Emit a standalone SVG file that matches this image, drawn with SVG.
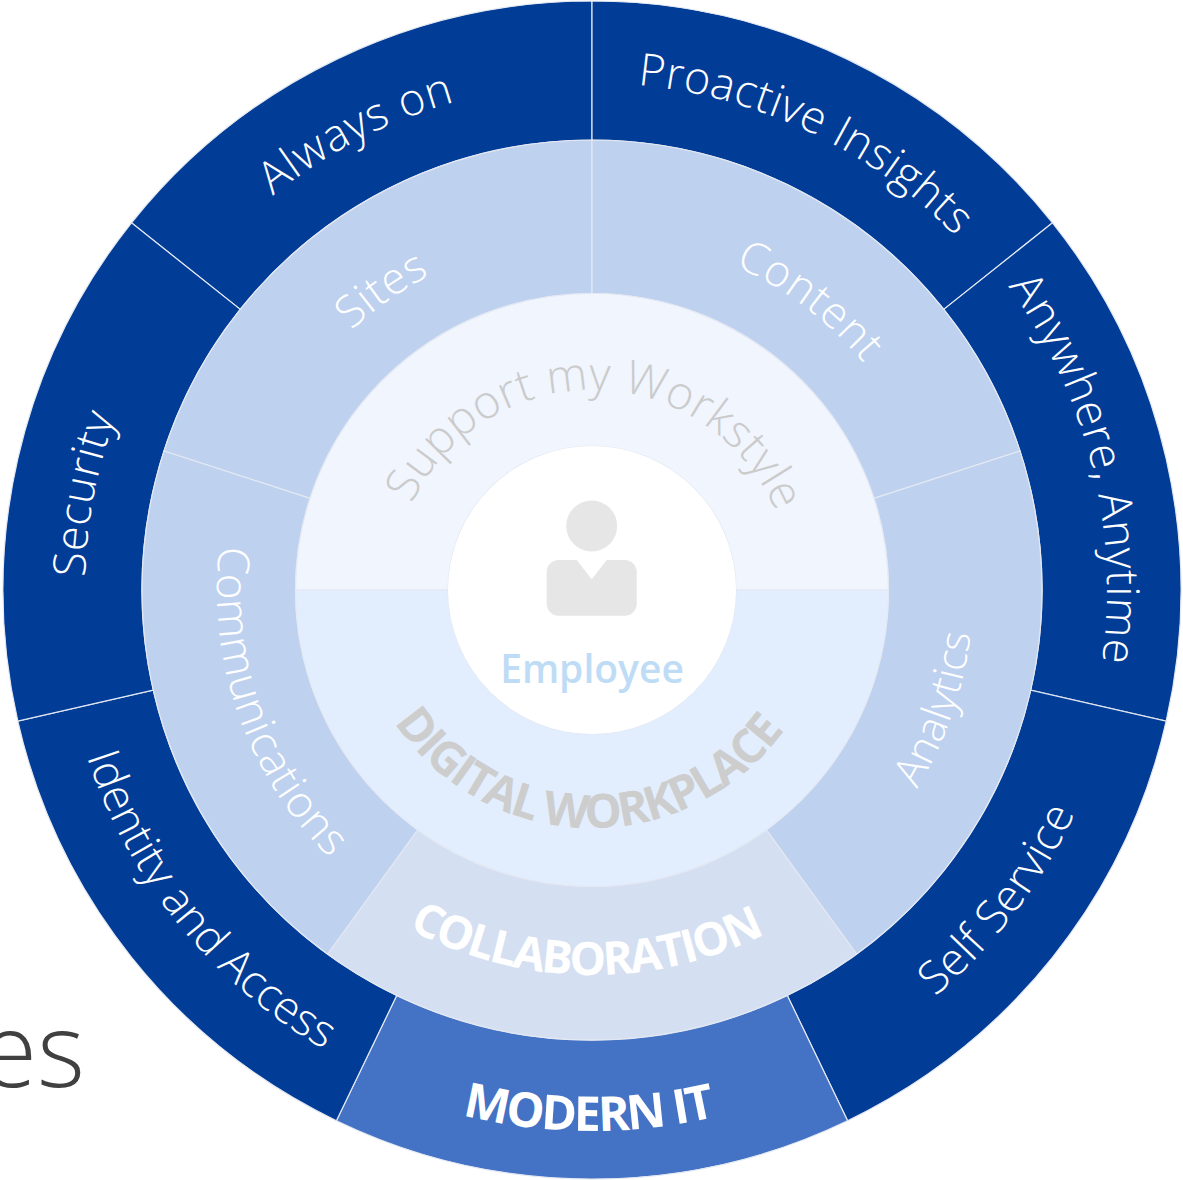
<svg xmlns="http://www.w3.org/2000/svg" xmlns:xlink="http://www.w3.org/1999/xlink" width="1183" height="1180" viewBox="0 0 1183 1180">
<style>
.seg{stroke:#e3e8f2;stroke-width:1.2}
.navy{fill:#013c97}
.mod{fill:#4472c4}
.r2{fill:#bed1ef}
.col{fill:#d4dff1}
.up{fill:#f0f5fe}
.lo{fill:#e2eefe}
text{font-family:"Open Sans","Noto Sans","Liberation Sans",sans-serif}
.lb{fill:#fff;font-weight:300;font-size:45px;letter-spacing:.4px;text-anchor:middle}
.lb2{fill:#fff;font-weight:300;font-size:44px;letter-spacing:.7px;text-anchor:middle}
.cap{fill:#fff;font-weight:700;text-anchor:middle;letter-spacing:-2px}
.sup{fill:#cbcbcb;font-weight:300;font-size:46px;letter-spacing:.2px;text-anchor:middle}
</style>
<defs>
<path id="o507" d="M85 590A507 507 0 0 1 1099 590"/>
<path id="o515" d="M77 590A515 515 0 0 1 1107 590"/>
<path id="o532" d="M60 590A532 532 0 0 0 1124 590"/>
<path id="o541" d="M51 590A541 541 0 0 0 1133 590"/>
<path id="m354" d="M238 590A354 354 0 0 1 946 590"/>
<path id="m375" d="M217 590A375 375 0 0 0 967 590"/>
<path id="m381" d="M211 590A381 381 0 0 0 973 590"/>
<path id="m385" d="M207 590A385 385 0 0 0 977 590"/>
<path id="i200" d="M392 590A200 200 0 0 1 792 590"/>
<path id="i238" d="M354 590A238 238 0 0 0 830 590"/>
</defs>
<g id="fragment"><text x="85" y="1087" font-size="103" font-weight="300" fill="#404040" text-anchor="end">es</text></g>
<g id="connectors"></g>
<g id="outer-ring">
<g id="always-on"><path class="seg navy" d="M131.5 222.8A589 589 0 0 1 592 1V140A450 450 0 0 0 240.2 309.4Z"/><text class="lb" style="letter-spacing:.8px" transform="rotate(-27.3 592 590)"><textPath href="#o507" startOffset="50%">Always on</textPath></text></g>
<g id="proactive-insights"><path class="seg navy" d="M592 1A589 589 0 0 1 1052.5 222.8L943.8 309.4A450 450 0 0 0 592 140Z"/><text class="lb" transform="rotate(25.5 592 590)"><textPath href="#o507" startOffset="50%">Proactive Insights</textPath></text></g>
<g id="anywhere-anytime"><path class="seg navy" d="M1052.5 222.8A589 589 0 0 1 1166.2 721.1L1030.7 690.1A450 450 0 0 0 943.8 309.4Z"/><text class="lb" style="letter-spacing:.7px" transform="rotate(76 592 590)"><textPath href="#o515" startOffset="50%">Anywhere, Anytime</textPath></text></g>
<g id="self-service"><path class="seg navy" d="M1166.2 721.1A589 589 0 0 1 847.6 1120.7L787.3 995.5A450 450 0 0 0 1030.7 690.1Z"/><text class="lb" transform="rotate(-52.7 592 590)"><textPath href="#o532" startOffset="50%">Self Service</textPath></text></g>
<g id="modern-it"><path class="seg mod" d="M847.6 1120.7A589 589 0 0 1 336.4 1120.7L396.7 995.5A450 450 0 0 0 787.3 995.5Z"/><text class="cap" font-size="48" transform="rotate(.4 592 590)"><textPath href="#o541" startOffset="50%">MODERN IT</textPath></text></g>
<g id="identity-access"><path class="seg navy" d="M336.4 1120.7A589 589 0 0 1 17.8 721.1L153.3 690.1A450 450 0 0 0 396.7 995.5Z"/><text class="lb" style="letter-spacing:-.1px" transform="rotate(51 592 590)"><textPath href="#o532" startOffset="50%">Identity and Access</textPath></text></g>
<g id="security"><path class="seg navy" d="M17.8 721.1A589 589 0 0 1 131.5 222.8L240.2 309.4A450 450 0 0 0 153.3 690.1Z"/><text class="lb" transform="rotate(-79.3 592 590)"><textPath href="#o507" startOffset="50%">Security</textPath></text></g>
</g>
<g id="middle-ring">
<g id="sites"><path class="seg r2" d="M164 451A450 450 0 0 1 592 140V293.5A296.5 296.5 0 0 0 310 498.4Z"/><text class="lb2" transform="rotate(-35 592 590)"><textPath href="#m354" startOffset="50%">Sites</textPath></text></g>
<g id="content"><path class="seg r2" d="M592 140A450 450 0 0 1 1020 451L874 498.4A296.5 296.5 0 0 0 592 293.5Z"/><text class="lb2" transform="rotate(37 592 590)"><textPath href="#m354" startOffset="50%">Content</textPath></text></g>
<g id="analytics"><path class="seg r2" d="M1020 451A450 450 0 0 1 856.5 954L766.3 829.9A296.5 296.5 0 0 0 874 498.4Z"/><text class="lb2" style="font-size:42px;letter-spacing:.2px" transform="rotate(-71 592 590)"><textPath href="#m381" startOffset="50%">Analytics</textPath></text></g>
<g id="collaboration"><path class="seg col" d="M856.5 954A450 450 0 0 1 327.5 954L417.7 829.9A296.5 296.5 0 0 0 766.3 829.9Z"/><text class="cap" font-size="46" transform="rotate(1 592 590)"><textPath href="#m385" startOffset="50%">COLLABORATION</textPath></text></g>
<g id="communications"><path class="seg r2" d="M327.5 954A450 450 0 0 1 164 451L310 498.4A296.5 296.5 0 0 0 417.7 829.9Z"/><text class="lb2" transform="rotate(70.5 592 590)"><textPath href="#m375" startOffset="50%">Communications</textPath></text></g>
</g>
<g id="inner-ring">
<g id="support-my-workstyle"><path class="seg up" d="M295.5 590A296.5 296.5 0 0 1 888.5 590H736A144 144 0 0 0 448 590Z"/><text class="sup" transform="rotate(1.3 592 590)"><textPath href="#i200" startOffset="50%">Support my Workstyle</textPath></text></g>
<g id="digital-workplace"><path class="seg lo" d="M295.5 590A296.5 296.5 0 0 0 888.5 590H736A144 144 0 0 1 448 590Z"/><text class="cap" font-size="47" style="fill:#cdcdcd;letter-spacing:-1.9px" transform="rotate(1.3 592 590)"><textPath href="#i238" startOffset="50%">DIGITAL WORKPLACE</textPath></text></g>
</g>
<g id="employee">
<circle cx="592" cy="590" r="144" fill="#fff"/>
<circle cx="591.7" cy="526" r="25.5" fill="#e6e6e6"/>
<path fill="#e6e6e6" d="M558.7 560H576.7L591.7 579.3L606.7 560H624.7A12 12 0 0 1 636.7 572V603.7A12 12 0 0 1 624.7 615.7H558.7A12 12 0 0 1 546.7 603.7V572A12 12 0 0 1 558.7 560Z"/>
<text x="592" y="683" font-size="39" font-weight="600" fill="#bedcf5" text-anchor="middle">Employee</text>
</g>
</svg>
